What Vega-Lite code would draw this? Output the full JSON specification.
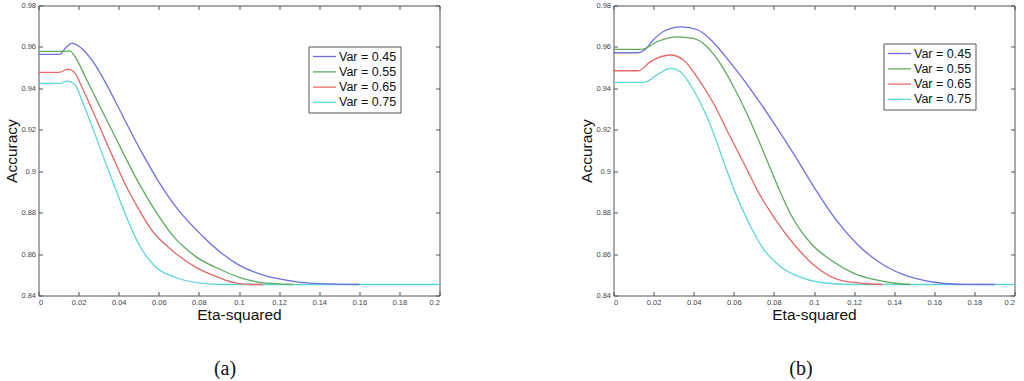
{
  "$schema": "https://vega.github.io/schema/vega-lite/v6.json",
  "background": "white",
  "padding": {"left": 4.5, "top": 1.5, "right": 0, "bottom": 0},
  "datasets": {
    "a": [
      {"s": "Var = 0.75", "x": 0, "y": 0.9424}, {"s": "Var = 0.75", "x": 0.0108, "y": 0.9424}, {"s": "Var = 0.75", "x": 0.0141, "y": 0.9435}, {"s": "Var = 0.75", "x": 0.0183, "y": 0.9416}, {"s": "Var = 0.75", "x": 0.0216, "y": 0.9343}, {"s": "Var = 0.75", "x": 0.0266, "y": 0.922}, {"s": "Var = 0.75", "x": 0.0324, "y": 0.9068}, {"s": "Var = 0.75", "x": 0.0382, "y": 0.892}, {"s": "Var = 0.75", "x": 0.0432, "y": 0.8795}, {"s": "Var = 0.75", "x": 0.0499, "y": 0.865}, {"s": "Var = 0.75", "x": 0.0582, "y": 0.854}, {"s": "Var = 0.75", "x": 0.0682, "y": 0.8488}, {"s": "Var = 0.75", "x": 0.0798, "y": 0.8461}, {"s": "Var = 0.75", "x": 0.0915, "y": 0.8453}, {"s": "Var = 0.75", "x": 0.2, "y": 0.8453},
      {"s": "Var = 0.45", "x": 0, "y": 0.9564}, {"s": "Var = 0.45", "x": 0.0105, "y": 0.9564}, {"s": "Var = 0.45", "x": 0.0135, "y": 0.9595}, {"s": "Var = 0.45", "x": 0.0166, "y": 0.9617}, {"s": "Var = 0.45", "x": 0.0216, "y": 0.9593}, {"s": "Var = 0.45", "x": 0.0266, "y": 0.9537}, {"s": "Var = 0.45", "x": 0.0333, "y": 0.943}, {"s": "Var = 0.45", "x": 0.04, "y": 0.9305}, {"s": "Var = 0.45", "x": 0.0466, "y": 0.918}, {"s": "Var = 0.45", "x": 0.0524, "y": 0.9075}, {"s": "Var = 0.45", "x": 0.0599, "y": 0.895}, {"s": "Var = 0.45", "x": 0.0698, "y": 0.8812}, {"s": "Var = 0.45", "x": 0.0815, "y": 0.869}, {"s": "Var = 0.45", "x": 0.0915, "y": 0.8603}, {"s": "Var = 0.45", "x": 0.0998, "y": 0.8548}, {"s": "Var = 0.45", "x": 0.1097, "y": 0.8506}, {"s": "Var = 0.45", "x": 0.12, "y": 0.848}, {"s": "Var = 0.45", "x": 0.13, "y": 0.8465}, {"s": "Var = 0.45", "x": 0.14, "y": 0.8457}, {"s": "Var = 0.45", "x": 0.16, "y": 0.8453},
      {"s": "Var = 0.55", "x": 0, "y": 0.9579}, {"s": "Var = 0.55", "x": 0.013, "y": 0.9579}, {"s": "Var = 0.55", "x": 0.0155, "y": 0.9581}, {"s": "Var = 0.55", "x": 0.0183, "y": 0.9552}, {"s": "Var = 0.55", "x": 0.0233, "y": 0.9456}, {"s": "Var = 0.55", "x": 0.0299, "y": 0.9327}, {"s": "Var = 0.55", "x": 0.0366, "y": 0.9198}, {"s": "Var = 0.55", "x": 0.0424, "y": 0.9085}, {"s": "Var = 0.55", "x": 0.0499, "y": 0.8945}, {"s": "Var = 0.55", "x": 0.0582, "y": 0.881}, {"s": "Var = 0.55", "x": 0.0665, "y": 0.8695}, {"s": "Var = 0.55", "x": 0.0781, "y": 0.859}, {"s": "Var = 0.55", "x": 0.0915, "y": 0.8522}, {"s": "Var = 0.55", "x": 0.1, "y": 0.8488}, {"s": "Var = 0.55", "x": 0.1097, "y": 0.8465}, {"s": "Var = 0.55", "x": 0.12, "y": 0.8456}, {"s": "Var = 0.55", "x": 0.127, "y": 0.8453},
      {"s": "Var = 0.65", "x": 0, "y": 0.9477}, {"s": "Var = 0.65", "x": 0.0103, "y": 0.9477}, {"s": "Var = 0.65", "x": 0.0146, "y": 0.9493}, {"s": "Var = 0.65", "x": 0.0183, "y": 0.9472}, {"s": "Var = 0.65", "x": 0.0216, "y": 0.9408}, {"s": "Var = 0.65", "x": 0.0266, "y": 0.93}, {"s": "Var = 0.65", "x": 0.0333, "y": 0.9152}, {"s": "Var = 0.65", "x": 0.0374, "y": 0.9062}, {"s": "Var = 0.65", "x": 0.0432, "y": 0.8938}, {"s": "Var = 0.65", "x": 0.0499, "y": 0.8818}, {"s": "Var = 0.65", "x": 0.0565, "y": 0.8715}, {"s": "Var = 0.65", "x": 0.0665, "y": 0.8619}, {"s": "Var = 0.65", "x": 0.0781, "y": 0.8538}, {"s": "Var = 0.65", "x": 0.0898, "y": 0.8487}, {"s": "Var = 0.65", "x": 0.0981, "y": 0.8461}, {"s": "Var = 0.65", "x": 0.1064, "y": 0.8453}, {"s": "Var = 0.65", "x": 0.112, "y": 0.8453}
    ],
    "b": [
      {"s": "Var = 0.75", "x": 0, "y": 0.9429}, {"s": "Var = 0.75", "x": 0.015, "y": 0.9429}, {"s": "Var = 0.75", "x": 0.0216, "y": 0.9464}, {"s": "Var = 0.75", "x": 0.0283, "y": 0.9496}, {"s": "Var = 0.75", "x": 0.0333, "y": 0.948}, {"s": "Var = 0.75", "x": 0.0399, "y": 0.9392}, {"s": "Var = 0.75", "x": 0.0466, "y": 0.9263}, {"s": "Var = 0.75", "x": 0.0516, "y": 0.9138}, {"s": "Var = 0.75", "x": 0.0557, "y": 0.9025}, {"s": "Var = 0.75", "x": 0.0602, "y": 0.8909}, {"s": "Var = 0.75", "x": 0.0669, "y": 0.8762}, {"s": "Var = 0.75", "x": 0.0752, "y": 0.8619}, {"s": "Var = 0.75", "x": 0.0835, "y": 0.8538}, {"s": "Var = 0.75", "x": 0.0952, "y": 0.8482}, {"s": "Var = 0.75", "x": 0.1084, "y": 0.8458}, {"s": "Var = 0.75", "x": 0.12, "y": 0.8453}, {"s": "Var = 0.75", "x": 0.2, "y": 0.8453},
      {"s": "Var = 0.45", "x": 0, "y": 0.9572}, {"s": "Var = 0.45", "x": 0.012, "y": 0.9572}, {"s": "Var = 0.45", "x": 0.0155, "y": 0.9585}, {"s": "Var = 0.45", "x": 0.019, "y": 0.9625}, {"s": "Var = 0.45", "x": 0.0253, "y": 0.9677}, {"s": "Var = 0.45", "x": 0.0341, "y": 0.9697}, {"s": "Var = 0.45", "x": 0.0419, "y": 0.9683}, {"s": "Var = 0.45", "x": 0.0485, "y": 0.9635}, {"s": "Var = 0.45", "x": 0.0582, "y": 0.9525}, {"s": "Var = 0.45", "x": 0.0699, "y": 0.9375}, {"s": "Var = 0.45", "x": 0.0798, "y": 0.9235}, {"s": "Var = 0.45", "x": 0.0898, "y": 0.9085}, {"s": "Var = 0.45", "x": 0.1002, "y": 0.892}, {"s": "Var = 0.45", "x": 0.1118, "y": 0.8755}, {"s": "Var = 0.45", "x": 0.1218, "y": 0.8645}, {"s": "Var = 0.45", "x": 0.1351, "y": 0.8545}, {"s": "Var = 0.45", "x": 0.1467, "y": 0.8493}, {"s": "Var = 0.45", "x": 0.1567, "y": 0.8469}, {"s": "Var = 0.45", "x": 0.165, "y": 0.8458}, {"s": "Var = 0.45", "x": 0.175, "y": 0.8454}, {"s": "Var = 0.45", "x": 0.19, "y": 0.8453},
      {"s": "Var = 0.55", "x": 0, "y": 0.9588}, {"s": "Var = 0.55", "x": 0.0141, "y": 0.9588}, {"s": "Var = 0.55", "x": 0.0216, "y": 0.9625}, {"s": "Var = 0.55", "x": 0.0316, "y": 0.9649}, {"s": "Var = 0.55", "x": 0.0399, "y": 0.9641}, {"s": "Var = 0.55", "x": 0.0466, "y": 0.9601}, {"s": "Var = 0.55", "x": 0.0532, "y": 0.9521}, {"s": "Var = 0.55", "x": 0.0599, "y": 0.9408}, {"s": "Var = 0.55", "x": 0.0665, "y": 0.9279}, {"s": "Var = 0.55", "x": 0.0732, "y": 0.913}, {"s": "Var = 0.55", "x": 0.0773, "y": 0.9035}, {"s": "Var = 0.55", "x": 0.0818, "y": 0.893}, {"s": "Var = 0.55", "x": 0.0885, "y": 0.879}, {"s": "Var = 0.55", "x": 0.0985, "y": 0.8651}, {"s": "Var = 0.55", "x": 0.1084, "y": 0.8571}, {"s": "Var = 0.55", "x": 0.1201, "y": 0.8506}, {"s": "Var = 0.55", "x": 0.1317, "y": 0.8474}, {"s": "Var = 0.55", "x": 0.1417, "y": 0.8458}, {"s": "Var = 0.55", "x": 0.148, "y": 0.8453},
      {"s": "Var = 0.65", "x": 0, "y": 0.9485}, {"s": "Var = 0.65", "x": 0.0125, "y": 0.9485}, {"s": "Var = 0.65", "x": 0.0183, "y": 0.9528}, {"s": "Var = 0.65", "x": 0.0283, "y": 0.9561}, {"s": "Var = 0.65", "x": 0.0349, "y": 0.9537}, {"s": "Var = 0.65", "x": 0.0416, "y": 0.9456}, {"s": "Var = 0.65", "x": 0.0499, "y": 0.9327}, {"s": "Var = 0.65", "x": 0.0582, "y": 0.9166}, {"s": "Var = 0.65", "x": 0.0665, "y": 0.901}, {"s": "Var = 0.65", "x": 0.0719, "y": 0.8905}, {"s": "Var = 0.65", "x": 0.0802, "y": 0.8775}, {"s": "Var = 0.65", "x": 0.0902, "y": 0.8645}, {"s": "Var = 0.65", "x": 0.1002, "y": 0.8545}, {"s": "Var = 0.65", "x": 0.1118, "y": 0.8478}, {"s": "Var = 0.65", "x": 0.1251, "y": 0.8458}, {"s": "Var = 0.65", "x": 0.134, "y": 0.8453}
    ]
  },
  "config": {
    "view": {"stroke": null},
    "font": "Liberation Sans",
    "axis": {
      "grid": false,
      "domainColor": "#555555",
      "domainWidth": 1,
      "tickColor": "#555555",
      "tickSize": -4,
      "labelPadding": 7,
      "labelFont": "Liberation Sans",
      "labelFontSize": 7.5,
      "labelColor": "#444444",
      "titleFont": "Liberation Sans",
      "titleFontSize": 15.5,
      "titleFontWeight": "normal",
      "titleColor": "#111111",
      "titlePadding": 1
    },
    "legend": {
      "orient": "none",
      "title": null,
      "symbolType": "stroke",
      "symbolSize": 529,
      "symbolStrokeWidth": 1.3,
      "clipHeight": 13,
      "rowPadding": 2.3,
      "padding": 3.5,
      "labelOffset": 2,
      "labelFont": "Liberation Sans",
      "labelFontSize": 12.5,
      "labelColor": "#111111",
      "strokeColor": "#555555",
      "fillColor": "white"
    }
  },
  "bounds": "flush",
  "spacing": 174,
  "resolve": {"scale": {"color": "independent"}, "legend": {"color": "independent"}},
  "hconcat": [
    {
      "width": 401,
      "height": 290,
      "data": {"name": "a"},
      "title": {"text": "(a)", "orient": "bottom", "frame": "group", "anchor": "middle", "font": "Liberation Serif", "fontSize": 20, "fontWeight": "normal", "color": "#111111", "dx": -14, "offset": 36},
      "layer": [
        {
          "mark": {"type": "line", "strokeWidth": 1.3, "interpolate": "monotone"},
          "encoding": {
            "x": {"field": "x", "type": "quantitative", "scale": {"domain": [0, 0.2], "nice": false}, "axis": {"orient": "bottom", "values": [0, 0.02, 0.04, 0.06, 0.08, 0.1, 0.12, 0.14, 0.16, 0.18, 0.2], "format": "~g", "title": "Eta-squared"}},
            "y": {"field": "y", "type": "quantitative", "scale": {"domain": [0.84, 0.98], "nice": false, "zero": false}, "axis": {"orient": "left", "values": [0.84, 0.86, 0.88, 0.9, 0.92, 0.94, 0.96, 0.98], "format": "~g", "title": "Accuracy"}},
            "color": {"field": "s", "type": "nominal", "scale": {"domain": ["Var = 0.45", "Var = 0.55", "Var = 0.65", "Var = 0.75"], "range": ["#6f6fe0", "#5faa5f", "#e56868", "#5ed6d6"]}, "legend": {"legendX": 270, "legendY": 41}}
          }
        },
        {
          "mark": {"type": "line", "opacity": 0},
          "encoding": {
            "x": {"field": "x", "type": "quantitative", "axis": {"orient": "top", "values": [0, 0.02, 0.04, 0.06, 0.08, 0.1, 0.12, 0.14, 0.16, 0.18, 0.2], "labels": false, "title": null}},
            "y": {"field": "y", "type": "quantitative", "axis": {"orient": "right", "values": [0.84, 0.86, 0.88, 0.9, 0.92, 0.94, 0.96, 0.98], "labels": false, "title": null}}
          }
        }
      ],
      "resolve": {"axis": {"x": "independent", "y": "independent"}}
    },
    {
      "width": 401,
      "height": 290,
      "data": {"name": "b"},
      "title": {"text": "(b)", "orient": "bottom", "frame": "group", "anchor": "middle", "font": "Liberation Serif", "fontSize": 20, "fontWeight": "normal", "color": "#111111", "dx": -13, "offset": 36},
      "layer": [
        {
          "mark": {"type": "line", "strokeWidth": 1.3, "interpolate": "monotone"},
          "encoding": {
            "x": {"field": "x", "type": "quantitative", "scale": {"domain": [0, 0.2], "nice": false}, "axis": {"orient": "bottom", "values": [0, 0.02, 0.04, 0.06, 0.08, 0.1, 0.12, 0.14, 0.16, 0.18, 0.2], "format": "~g", "title": "Eta-squared"}},
            "y": {"field": "y", "type": "quantitative", "scale": {"domain": [0.84, 0.98], "nice": false, "zero": false}, "axis": {"orient": "left", "values": [0.84, 0.86, 0.88, 0.9, 0.92, 0.94, 0.96, 0.98], "format": "~g", "title": "Accuracy"}},
            "color": {"field": "s", "type": "nominal", "scale": {"domain": ["Var = 0.45", "Var = 0.55", "Var = 0.65", "Var = 0.75"], "range": ["#6f6fe0", "#5faa5f", "#e56868", "#5ed6d6"]}, "legend": {"legendX": 270, "legendY": 38}}
          }
        },
        {
          "mark": {"type": "line", "opacity": 0},
          "encoding": {
            "x": {"field": "x", "type": "quantitative", "axis": {"orient": "top", "values": [0, 0.02, 0.04, 0.06, 0.08, 0.1, 0.12, 0.14, 0.16, 0.18, 0.2], "labels": false, "title": null}},
            "y": {"field": "y", "type": "quantitative", "axis": {"orient": "right", "values": [0.84, 0.86, 0.88, 0.9, 0.92, 0.94, 0.96, 0.98], "labels": false, "title": null}}
          }
        }
      ],
      "resolve": {"axis": {"x": "independent", "y": "independent"}}
    }
  ]
}
